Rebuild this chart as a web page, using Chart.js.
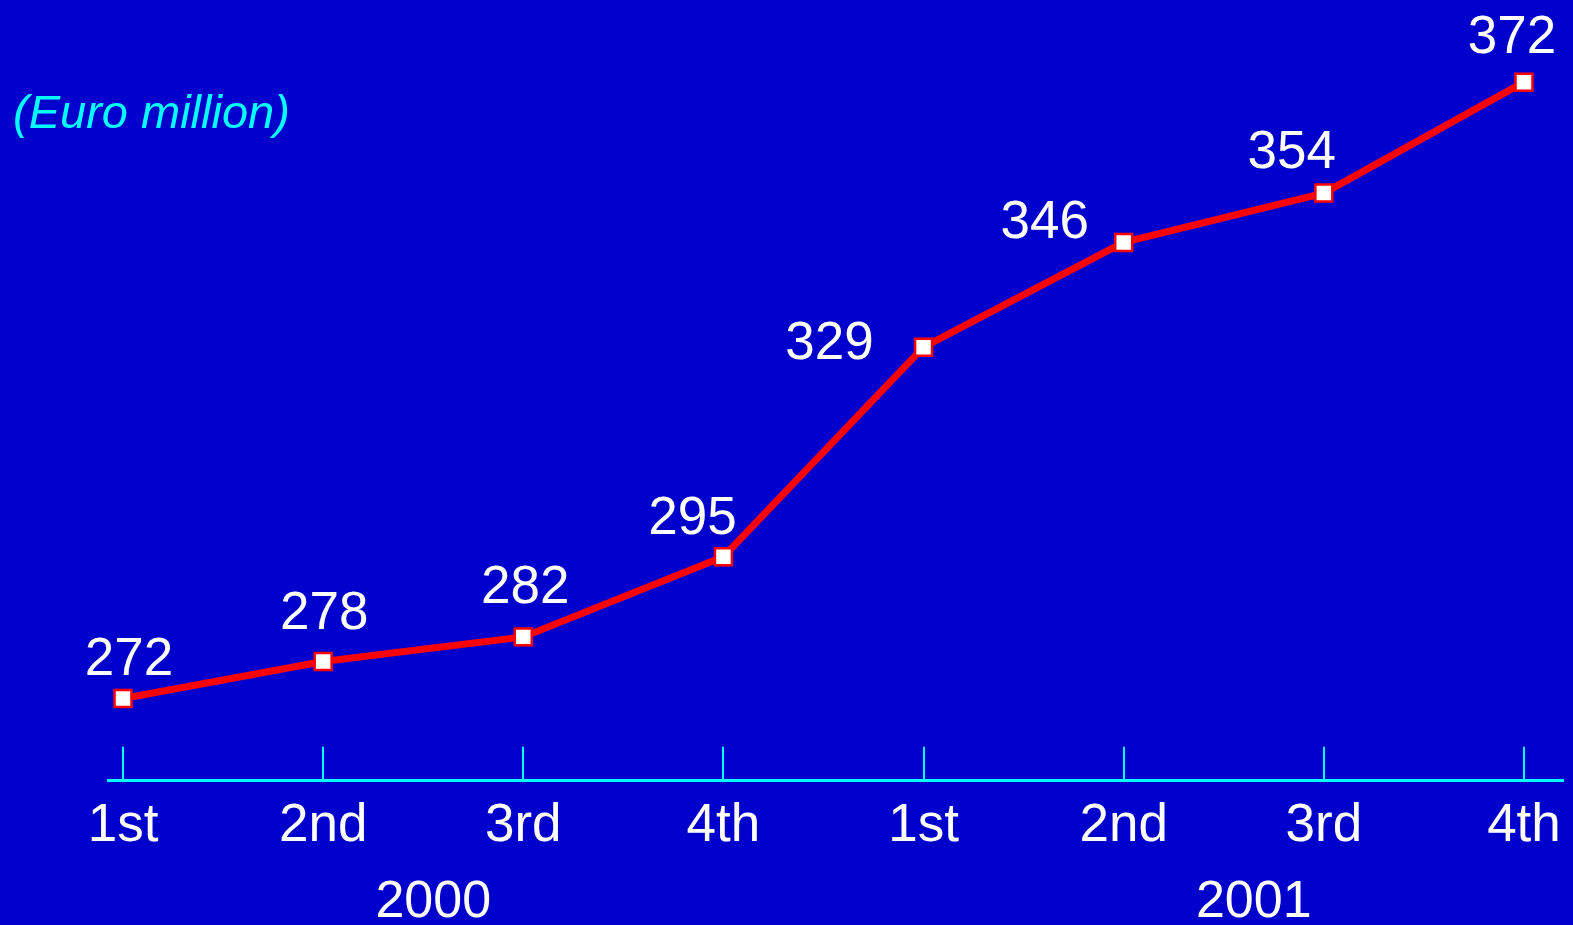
<!DOCTYPE html>
<html>
<head>
<meta charset="utf-8">
<script src="https://cdn.jsdelivr.net/npm/chart.js@4/dist/chart.umd.min.js"></script>
<style>
  html, body { margin: 0; padding: 0; background: #0000cc; }
  canvas { display: block; }
</style>
</head>
<body>
<canvas id="myChart" width="1573" height="925"></canvas>
<script>
let quarters = ['1st', '2nd', '3rd', '4th', '1st', '2nd', '3rd', '4th'];
let years = ['2000', '2001'];
let revenue = [272, 278, 282, 295, 329, 346, 354, 372];

const FONT = "'Liberation Sans', Arial, sans-serif";
Chart.defaults.font.family = FONT;

// blue backdrop, unit caption and the year row under the quarters
const decorations = {
  id: 'decorations',
  beforeDraw(chart) {
    const ctx = chart.ctx;
    ctx.save();
    ctx.fillStyle = '#0000cc';
    ctx.fillRect(0, 0, chart.width, chart.height);
    ctx.restore();
  },
  afterDraw(chart, args, opts) {
    const ctx = chart.ctx;
    const x = chart.scales.x;
    ctx.save();
    ctx.fillStyle = '#00ffff';
    ctx.font = 'italic 47px ' + FONT;
    ctx.textAlign = 'left';
    ctx.textBaseline = 'alphabetic';
    ctx.fillText('(Euro million)', 13, 128);

    ctx.fillStyle = '#ffffff';
    ctx.font = '52px ' + FONT;
    ctx.textAlign = 'center';
    years.forEach((yr, i) => {
      ctx.fillText(yr, x.getPixelForValue(opts.yearAt[i]), 917);
    });
    ctx.restore();
  }
};

// value printed next to every point
const pointLabels = {
  id: 'pointLabels',
  afterDatasetsDraw(chart, args, opts) {
    const ctx = chart.ctx;
    const meta = chart.getDatasetMeta(0);
    ctx.save();
    ctx.fillStyle = '#ffffff';
    ctx.font = '53px ' + FONT;
    ctx.textAlign = 'center';
    ctx.textBaseline = 'alphabetic';
    meta.data.forEach((pt, i) => {
      const off = opts.offsets[i];
      ctx.fillText(String(revenue[i]), pt.x + off[0], pt.y + off[1]);
    });
    ctx.restore();
  }
};

let myChart = document.getElementById('myChart').getContext('2d');

let newChart = new Chart(myChart, {
    type: 'line',
    data: {
        datasets: [{
            label: 'Revenue',
            data: revenue.map((v, i) => ({ x: i, y: v })),
            borderColor: '#ff0000',
            borderWidth: 7,
            tension: 0,
            pointStyle: 'rect',
            pointRadius: 12,
            pointHoverRadius: 12,
            pointBackgroundColor: '#ffffff',
            pointBorderColor: '#ff0000',
            pointBorderWidth: 2.5,
            clip: false
        }]
    },
    options: {
        responsive: false,
        animation: false,
        layout: {
            autoPadding: false,
            padding: { left: 108, right: 10, top: 0, bottom: 19 }
        },
        scales: {
            x: {
                type: 'linear',
                min: -0.075,
                max: 7.195,
                // let the end labels overhang instead of squeezing the axis
                afterFit: (scale) => {
                    scale.paddingLeft = 0;
                    scale.paddingRight = 0;
                },
                border: { display: true, color: '#00ffff', width: 3 },
                grid: {
                    drawOnChartArea: false,
                    drawTicks: true,
                    tickLength: -34,
                    color: '#00ffff',
                    lineWidth: 2
                },
                ticks: {
                    stepSize: 1,
                    includeBounds: false,
                    autoSkip: false,
                    maxRotation: 0,
                    padding: 0,
                    color: '#ffffff',
                    // tall line box pushes the quarter names below the axis
                    font: { size: 53, lineHeight: 3.006 },
                    callback: (v) => quarters[v] !== undefined ? quarters[v] : ''
                }
            },
            y: {
                display: false,
                min: 258.67,
                max: 385.33
            }
        },
        plugins: {
            legend: { display: false },
            tooltip: { enabled: false },
            decorations: { yearAt: [1.55, 5.65] },
            pointLabels: {
                offsets: [[6, -24], [1, -33], [2, -34], [-31, -23],
                          [-94, 12], [-79, -4], [-32, -25], [-12, -29]]
            }
        }
    },
    plugins: [decorations, pointLabels]
});
</script>
</body>
</html>
